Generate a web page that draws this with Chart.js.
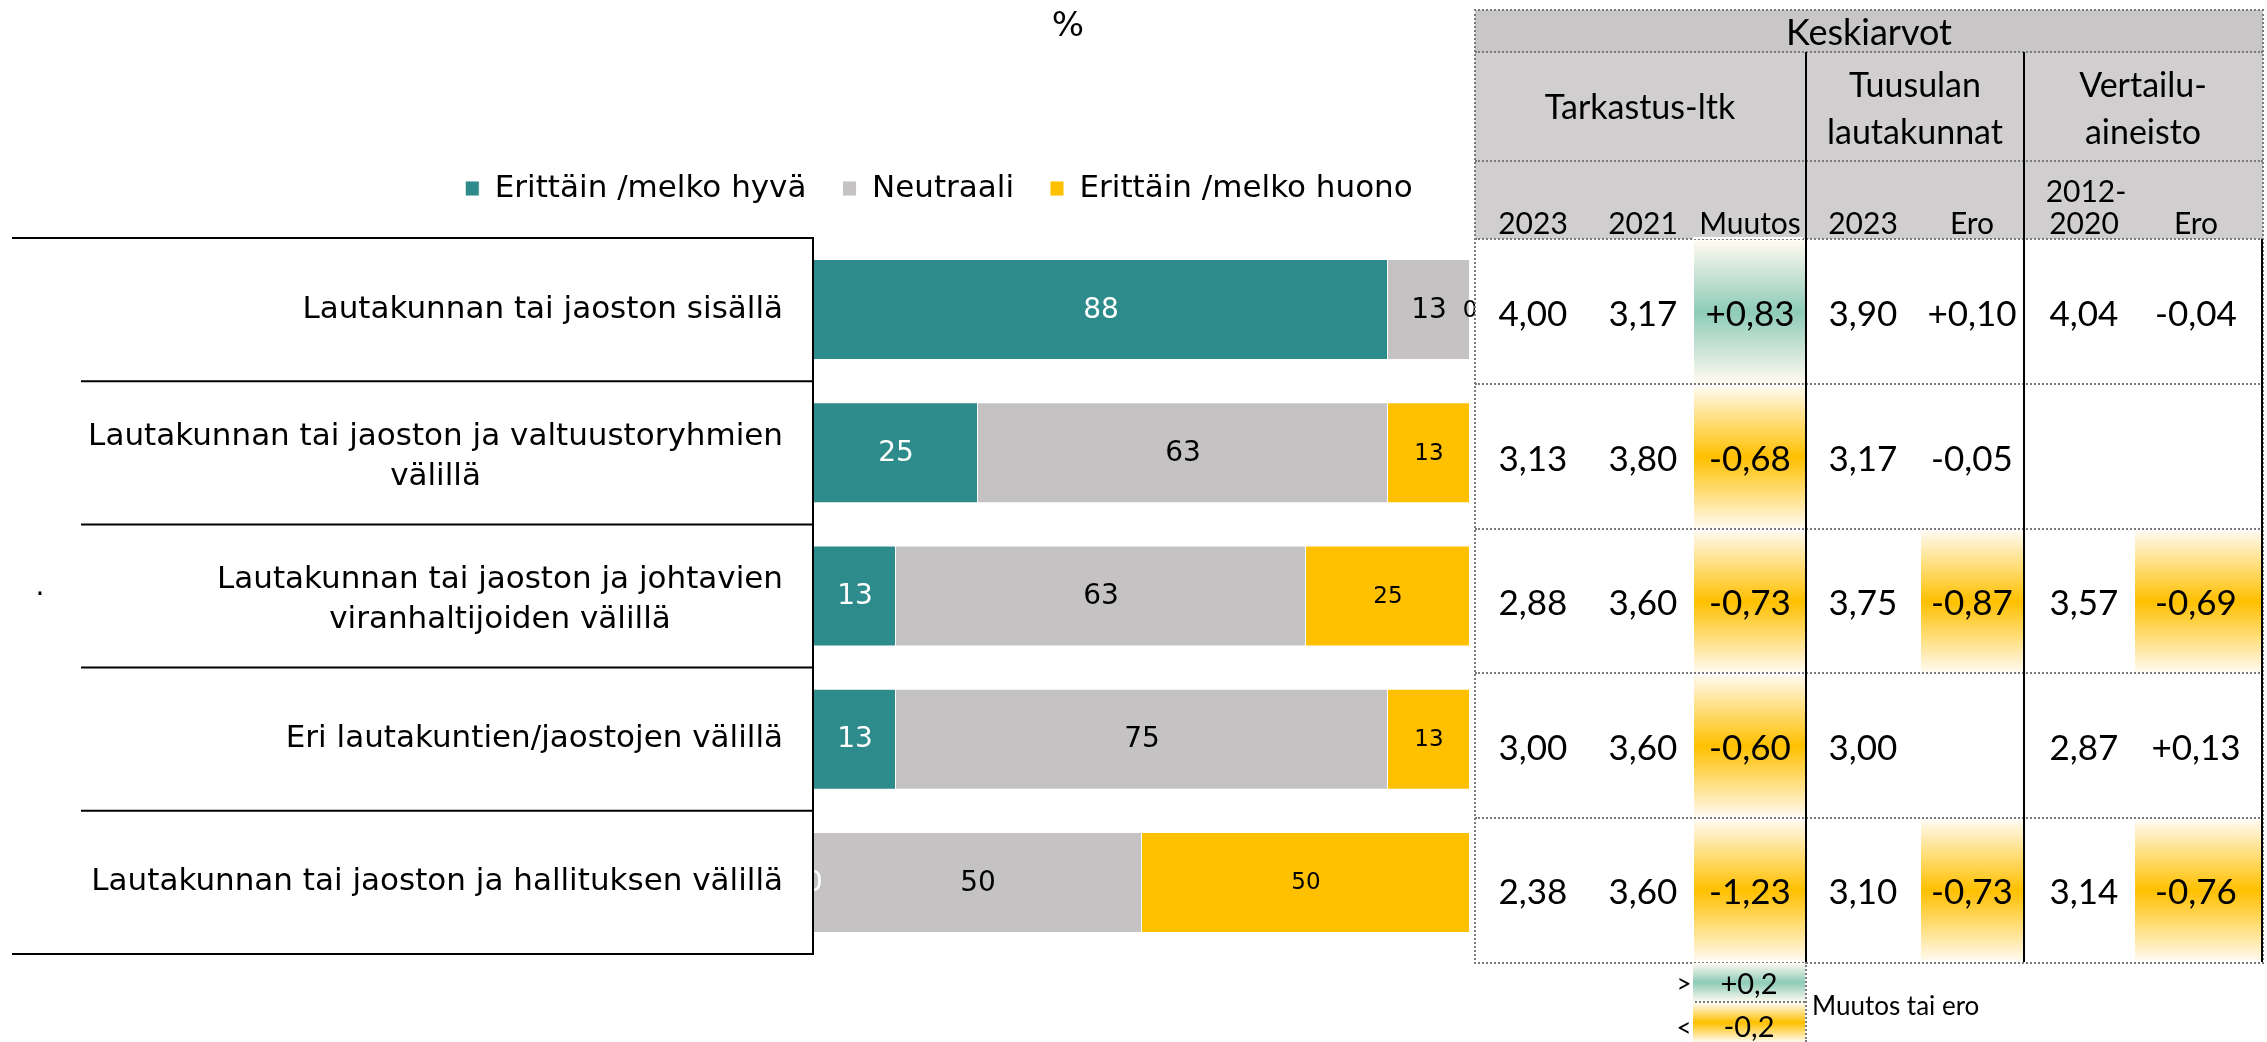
<!DOCTYPE html>
<html>
<head>
<meta charset="utf-8">
<script src="https://cdn.jsdelivr.net/npm/chart.js@4"></script>
<style>
  body { margin: 0; background: #fff; width: 2267px; height: 1042px; overflow: hidden; position: relative; }
  #chart { position: absolute; left: 0; top: 0; }
  .t { position: absolute; white-space: nowrap; color: #000; font-family: Lato, sans-serif; }
</style>
</head>
<body>
<canvas id="chart" width="1475" height="1042"></canvas>
<script>
// bar chart data (percent)
var categories = [
	"Lautakunnan tai jaoston sisällä",
	["Lautakunnan tai jaoston ja valtuustoryhmien", "välillä"],
	["Lautakunnan tai jaoston ja johtavien", "viranhaltijoiden välillä"],
	"Eri lautakuntien/jaostojen välillä",
	"Lautakunnan tai jaoston ja hallituksen välillä"
];
var seriesNames = ["Erittäin /melko hyvä", "Neutraali", "Erittäin /melko huono"];
var hyva = [87.5, 25, 12.5, 12.5, 0];
var neutraali = [12.5, 62.5, 62.5, 75, 50];
var huono = [0, 12.5, 25, 12.5, 50];

// averages table
var tarkastus2023 = [4.00, 3.13, 2.88, 3.00, 2.38];
var tarkastus2021 = [3.17, 3.80, 3.60, 3.60, 3.60];
var muutos = [0.83, -0.68, -0.73, -0.60, -1.23];
var tuusula2023 = [3.90, 3.17, 3.75, 3.00, 3.10];
var tuusulaEro = [0.10, -0.05, -0.87, null, -0.73];
var vertailu = [4.04, null, 3.57, 2.87, 3.14];
var vertailuEro = [-0.04, null, -0.69, 0.13, -0.76];
var limit = 0.2;

var TEAL = "#2E8B8B", GRAY = "#C4C2C3", YELLOW = "#FFC000";

/////////// labels + box on the left ///////////
var labelBox = {
	id: 'labelBox',
	afterDraw: function(chart) {
		var ctx = chart.ctx;
		var y = chart.scales.y;
		var area = chart.chartArea;
		var step = y.getPixelForValue(1) - y.getPixelForValue(0);
		var xLine = area.left - 1;
		var first = y.getPixelForValue(0) - step / 2;
		ctx.save();
		ctx.strokeStyle = "#000";
		ctx.lineWidth = 2;
		for (var i = 0; i <= categories.length; i++) {
			var yy = first + i * step;
			var x0 = (i == 0 || i == categories.length) ? 12 : 81;
			ctx.beginPath();
			ctx.moveTo(x0, yy);
			ctx.lineTo(xLine, yy);
			ctx.stroke();
		}
		ctx.beginPath();
		ctx.moveTo(xLine, first - 1);
		ctx.lineTo(xLine, first + categories.length * step + 1);
		ctx.stroke();

		ctx.font = '31px "DejaVu Sans"';
		ctx.fillStyle = "#000";
		ctx.textAlign = "center";
		ctx.textBaseline = "middle";
		var right = area.left - 31;
		categories.forEach(function(lab, i) {
			var lines = Array.isArray(lab) ? lab : [lab];
			var w = 0;
			lines.forEach(function(l) { w = Math.max(w, ctx.measureText(l).width); });
			var cy = y.getPixelForValue(i) + (lines.length > 1 ? 4 : 0) - (lines.length - 1) * 20;
			lines.forEach(function(l, k) {
				ctx.fillText(l, right - w / 2, cy + k * 40);
			});
		});
		ctx.restore();
	}
};

/////////// value labels inside bars ///////////
var barValues = {
	id: 'barValues',
	afterDatasetsDraw: function(chart) {
		var ctx = chart.ctx;
		ctx.save();
		ctx.textAlign = "center";
		ctx.textBaseline = "middle";
		chart.data.datasets.forEach(function(ds, di) {
			ctx.fillStyle = ds.labelColor;
			ctx.font = ds.labelSize + 'px "DejaVu Sans"';
			chart.getDatasetMeta(di).data.forEach(function(bar, i) {
				var p = bar.getCenterPoint();
				ctx.fillText(Math.round(ds.data[i]), p.x, p.y + 1);
			});
		});
		ctx.restore();
	}
};

var ctx = document.getElementById("chart");
var myChart = new Chart(ctx, {
	type: 'bar',
	data: {
		labels: categories,
		datasets: [
		{ label: seriesNames[0], data: hyva, backgroundColor: TEAL, labelColor: "#fff", labelSize: 28 },
		{ label: seriesNames[1], data: neutraali, backgroundColor: GRAY, labelColor: "#000", labelSize: 28 },
		{ label: seriesNames[2], data: huono, backgroundColor: YELLOW, labelColor: "#000", labelSize: 23 }
		]
	},
	options: {
		indexAxis: 'y',
		responsive: false,
		animation: false,
		devicePixelRatio: 1,
		datasets: {
			bar: { categoryPercentage: 1, barPercentage: 0.705, borderColor: "rgba(255,255,255,0.9)", borderWidth: 1 }
		},
		layout: { padding: { left: 408, right: 5, top: 137, bottom: 88 } },
		scales: {
			x: {
				stacked: true, min: 0, max: 100, position: 'top',
				ticks: { display: false }, grid: { display: false, drawTicks: false }, border: { display: false },
				afterFit: function(s) { s.height = 24; }
			},
			y: {
				stacked: true,
				ticks: { display: false }, grid: { display: false, drawTicks: false }, border: { display: false },
				afterFit: function(s) { s.width = 406; }
			}
		},
		plugins: {
			legend: {
				position: 'top',
				labels: {
					color: "#000",
					font: { family: "DejaVu Sans", size: 31 },
					boxWidth: 14, boxHeight: 15, padding: 36
				}
			},
			tooltip: { enabled: false }
		}
	},
	plugins: [labelBox, barValues]
});

/////////// table on the right ///////////
function box(x, y, w, h, css) {
	var d = document.createElement("div");
	d.style.cssText = "position:absolute;box-sizing:border-box;left:" + x + "px;top:" + y + "px;width:" + w + "px;height:" + h + "px;" + (css || "");
	document.body.appendChild(d);
	return d;
}
function text(s, cx, cy, size, css) {
	var d = document.createElement("div");
	d.className = "t";
	d.style.cssText = "left:" + (cx - 150) + "px;top:" + (cy - size) + "px;width:300px;height:" + (size * 2) + "px;line-height:" + (size * 2) + "px;font-size:" + size + "px;text-align:center;" + (css || "");
	d.textContent = s;
	document.body.appendChild(d);
	return d;
}
function fmt(v, sign) {
	if (v === null) return "";
	var s = v.toFixed(2).replace(".", ",");
	if (sign && v > 0) s = "+" + s;
	return s;
}
function grad(c) {
	return "background:linear-gradient(to bottom, #fffaf0 0%, " + c + " 50%, #fffaf0 100%);";
}

var cols = [1475, 1580, 1693, 1806, 1920, 2024, 2134, 2263];
var centers = [1533, 1643, 1750, 1863, 1972, 2084, 2196];
var rowsY = [239, 384, 529, 673, 818, 962];
var DOT = "2px dotted #7a7a7a";

box(1475, 10, 788, 42, "background:#C8C6C6;");
box(1475, 52, 788, 187, "background:#D0CECF;");

var tableCols = [
	{ v: tarkastus2023 }, { v: tarkastus2021 }, { v: muutos, sign: true, hl: true },
	{ v: tuusula2023 }, { v: tuusulaEro, sign: true, hl: true },
	{ v: vertailu }, { v: vertailuEro, sign: true, hl: true }
];

tableCols.forEach(function(col, c) {
	col.v.forEach(function(v, r) {
		if (col.hl && v !== null && Math.abs(v) > limit) {
			var color = v > 0 ? "#8ECBB8" : YELLOW;
			box(cols[c] + 1, rowsY[r] + 2, cols[c + 1] - cols[c] - 2, rowsY[r + 1] - rowsY[r] - 3, grad(color));
		}
		text(fmt(v, col.sign), centers[c], (rowsY[r] + rowsY[r + 1]) / 2, 35);
	});
});

[52, 161, 239, 384, 529, 673, 818].forEach(function(y) {
	box(1475, y - 1, 788, 2, "border-top:" + DOT + ";");
});
box(1474, 9, 790, 955, "border:" + DOT + ";");
box(1805, 52, 2, 910, "background:#000;");
box(2023, 52, 2, 910, "background:#000;");
box(2261, 239, 2, 723, "background:#000;");
box(1693, 237, 110, 2, "background:#fff;");

text("Keskiarvot", 1869, 31, 36);
text("Tarkastus-ltk", 1640, 106, 34);
text("Tuusulan", 1915, 84, 34);
text("lautakunnat", 1915, 131, 34);
text("Vertailu-", 2143, 84, 34);
text("aineisto", 2143, 131, 34);
var subHeads = ["2023", "2021", "Muutos", "2023", "Ero", "2020", "Ero"];
subHeads.forEach(function(s, c) { text(s, centers[c], 222, 30); });
text("2012-", centers[5] + 2, 190, 30);

// colour key under the table
box(1693, 963, 112, 39, grad("#8ECBB8"));
box(1693, 1003, 112, 39, grad(YELLOW));
box(1695, 1001, 110, 2, "border-top:" + DOT + ";");
box(1805, 962, 2, 80, "border-left:" + DOT + ";");
text("+0,2", 1749, 983, 29);
text("-0,2", 1749, 1026, 29);
text(">", 1684, 983, 26);
text("<", 1684, 1027, 26);
var key = text("Muutos tai ero", 1962, 1005, 26, "text-align:left;");

// loose texts around the chart
text("%", 1068, 24, 34, "font-family:'DejaVu Sans';");
text(".", 40, 586, 28, "font-family:'DejaVu Sans';");
</script>
</body>
</html>
